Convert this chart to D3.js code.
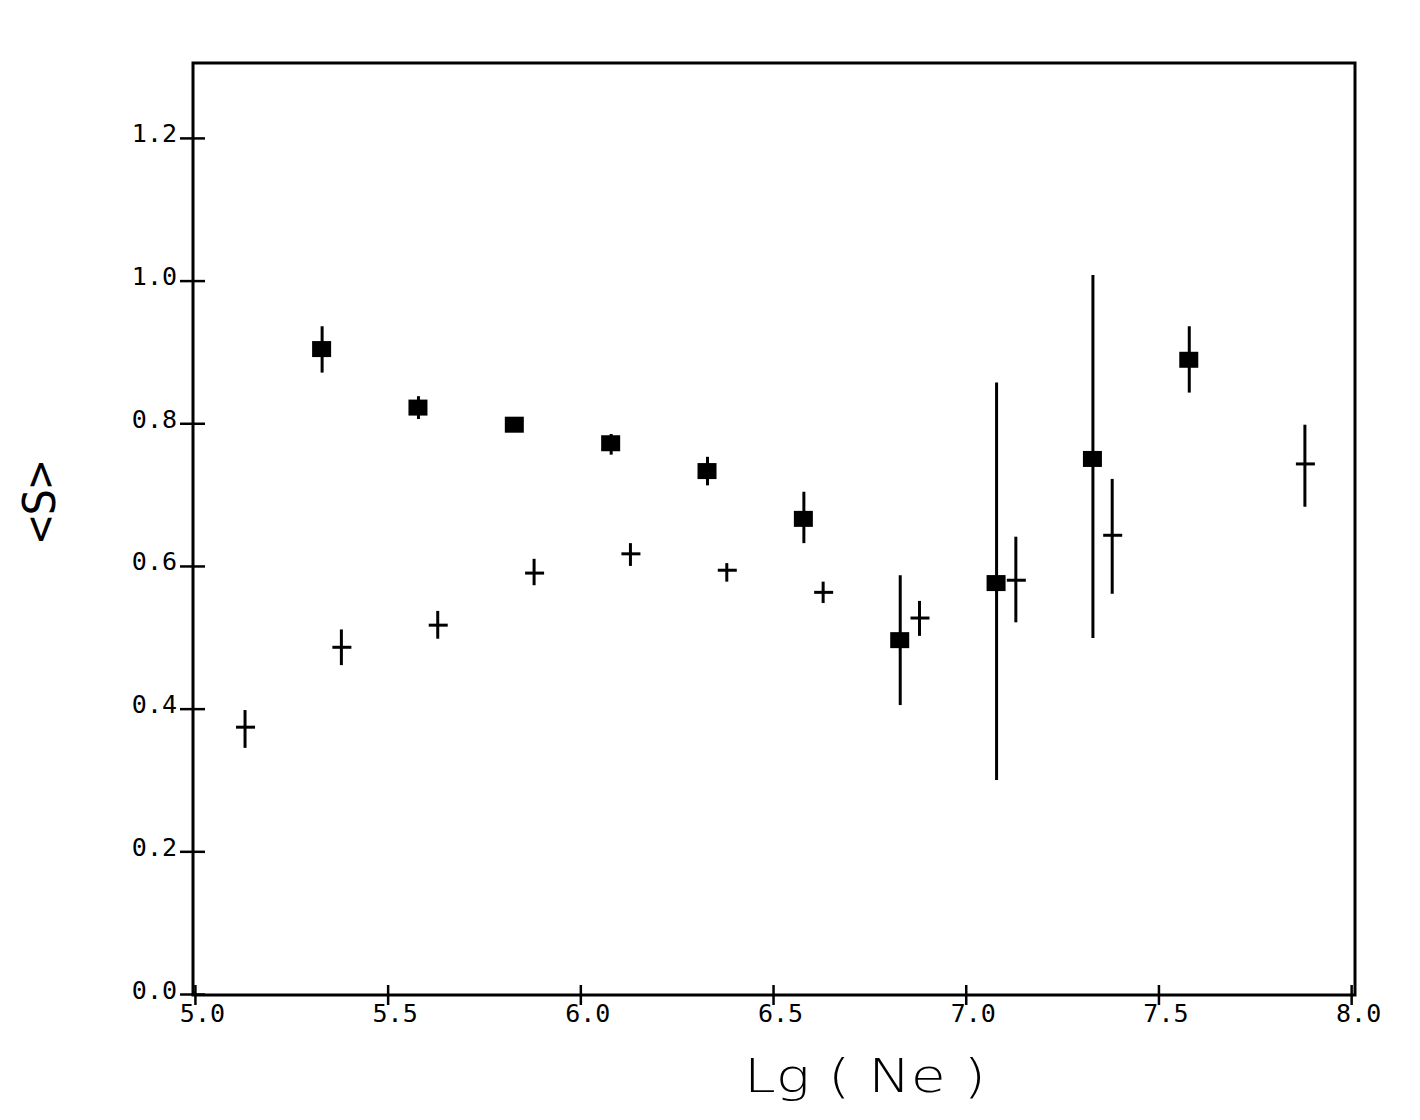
<!DOCTYPE html>
<html>
<head>
<meta charset="utf-8">
<script src="https://cdn.jsdelivr.net/npm/d3@7"></script>
<style>
  html, body { margin: 0; padding: 0; background: #fff; }
  #chart { width: 1420px; height: 1120px; }
  .tick text { font-family: "DejaVu Sans Mono", monospace; font-size: 25px; fill: #000; }
</style>
</head>
<body>
<div id="chart"></div>
<script>
// squares (filled markers)
const sqX = [5.33, 5.58, 5.83, 6.08, 6.33, 6.58, 6.83, 7.08, 7.33, 7.58];
const sqY = [0.904, 0.822, 0.798, 0.772, 0.733, 0.666, 0.496, 0.576, 0.750, 0.889];
const sqHi = [0.936, 0.838, 0.806, 0.785, 0.753, 0.704, 0.587, 0.857, 1.008, 0.936];
const sqLo = [0.871, 0.806, 0.790, 0.756, 0.713, 0.632, 0.405, 0.300, 0.499, 0.843];

// crosses
const crX = [5.13, 5.38, 5.63, 5.88, 6.13, 6.38, 6.63, 6.88, 7.13, 7.38, 7.88];
const crY = [0.374, 0.486, 0.517, 0.590, 0.617, 0.594, 0.563, 0.527, 0.580, 0.643, 0.743];
const crHi = [0.398, 0.511, 0.537, 0.610, 0.632, 0.604, 0.578, 0.551, 0.641, 0.722, 0.798];
const crLo = [0.345, 0.461, 0.498, 0.573, 0.600, 0.578, 0.548, 0.502, 0.521, 0.561, 0.683];

const xTicks = [5.0, 5.5, 6.0, 6.5, 7.0, 7.5, 8.0];
const yTicks = [0.0, 0.2, 0.4, 0.6, 0.8, 1.0, 1.2];

const svg = d3.select("#chart").append("svg")
    .attr("width", 1420)
    .attr("height", 1120);

const box = { left: 193, right: 1355, top: 63, bottom: 995 };

const x = d3.scaleLinear().domain([4.995, 8.01]).range([box.left, box.right]);
const y = d3.scaleLinear().domain([-0.0014, 1.305]).range([box.bottom, box.top]);

// frame
svg.append("rect")
    .attr("x", box.left)
    .attr("y", box.top)
    .attr("width", box.right - box.left)
    .attr("height", box.bottom - box.top)
    .attr("fill", "none")
    .attr("stroke", "#000")
    .attr("stroke-width", 3);

// x axis
const gx = svg.append("g")
    .attr("transform", `translate(0,${box.bottom})`)
    .call(d3.axisBottom(x).tickValues(xTicks).tickFormat(d3.format(".1f")).tickSize(0));
gx.select(".domain").remove();
gx.selectAll(".tick line")
    .attr("y1", -10).attr("y2", 10)
    .attr("stroke", "#000").attr("stroke-width", 2.5);
gx.selectAll(".tick text")
    .attr("dy", null)
    .attr("y", 27)
    .attr("dx", 7);

// y axis
const gy = svg.append("g")
    .attr("transform", `translate(${box.left},0)`)
    .call(d3.axisLeft(y).tickValues(yTicks).tickFormat(d3.format(".1f")).tickSize(0));
gy.select(".domain").remove();
gy.selectAll(".tick line")
    .attr("x1", -13).attr("x2", 12)
    .attr("stroke", "#000").attr("stroke-width", 2.5);
gy.selectAll(".tick text")
    .attr("x", -16)
    .attr("dy", null)
    .attr("y", 4);

// axis titles
svg.append("text")
    .attr("x", 865)
    .attr("y", 1092)
    .attr("text-anchor", "middle")
    .attr("textLength", 242)
    .attr("lengthAdjust", "spacingAndGlyphs")
    .style("font-family", "'DejaVu Sans', sans-serif")
    .style("font-weight", 200)
    .style("font-size", "46px")
    .text("Lg ( Ne )");

svg.append("text")
    .attr("transform", "translate(55,502) rotate(-90)")
    .attr("text-anchor", "middle")
    .attr("textLength", 82)
    .attr("lengthAdjust", "spacingAndGlyphs")
    .style("font-family", "'DejaVu Sans Mono', monospace")
    .style("font-size", "44px")
    .text("<S>");

// data tables
const squares = sqX.map((v, i) => ({ x: v, y: sqY[i], hi: sqHi[i], lo: sqLo[i] }));
const crosses = crX.map((v, i) => ({ x: v, y: crY[i], hi: crHi[i], lo: crLo[i] }));

// error bars
svg.selectAll(".sq-err")
    .data(squares)
    .join("line")
    .attr("class", "sq-err")
    .attr("x1", d => x(d.x)).attr("x2", d => x(d.x))
    .attr("y1", d => y(d.hi)).attr("y2", d => y(d.lo))
    .attr("stroke", "#000").attr("stroke-width", 3);

svg.selectAll(".sq")
    .data(squares)
    .join("rect")
    .attr("class", "sq")
    .attr("x", d => x(d.x) - 10)
    .attr("y", d => y(d.y) - 8)
    .attr("width", 19)
    .attr("height", 16)
    .attr("fill", "#000");

svg.selectAll(".cr-err")
    .data(crosses)
    .join("line")
    .attr("class", "cr-err")
    .attr("x1", d => x(d.x)).attr("x2", d => x(d.x))
    .attr("y1", d => y(d.hi)).attr("y2", d => y(d.lo))
    .attr("stroke", "#000").attr("stroke-width", 3);

svg.selectAll(".cr")
    .data(crosses)
    .join("line")
    .attr("class", "cr")
    .attr("x1", d => x(d.x) - 9).attr("x2", d => x(d.x) + 10)
    .attr("y1", d => y(d.y)).attr("y2", d => y(d.y))
    .attr("stroke", "#000").attr("stroke-width", 3);
</script>
</body>
</html>
